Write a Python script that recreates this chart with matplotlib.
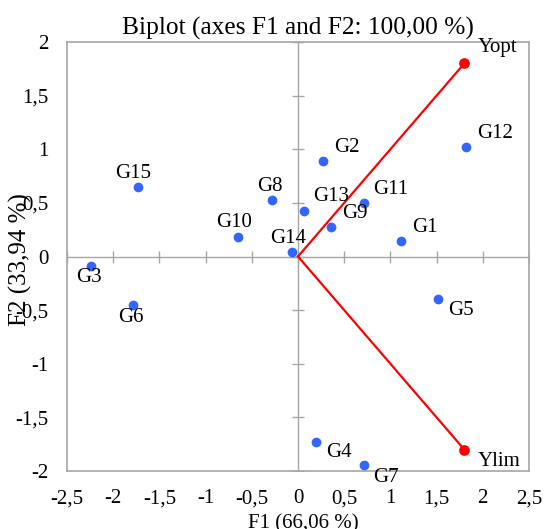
#!/usr/bin/env python3
"""biplot of genotypes (G1..G15) with the Yopt / Ylim vectors"""
import numpy as np
import matplotlib.pyplot as plt

plt.rcParams['font.family'] = ['Liberation Serif', 'DejaVu Serif']

# observations (blue points)
genotypes = ['G1', 'G2', 'G3', 'G4', 'G5', 'G6', 'G7', 'G8',
             'G9', 'G10', 'G11', 'G12', 'G13', 'G14', 'G15']
f1 = [1.12, 0.27, -2.24, 0.20, 1.52, -1.79, 0.71, -0.28,
      0.36, -0.65, 0.71, 1.82, 0.06, -0.06, -1.73]
f2 = [0.145, 0.89, -0.086, -1.73, -0.40, -0.45, -1.94, 0.53,
      0.275, 0.18, 0.50, 1.02, 0.42, 0.045, 0.65]

# variables (red vectors)
variables = ['Yopt', 'Ylim']
v1 = [1.80, 1.80]
v2 = [1.80, -1.80]

x_ticks = np.arange(-2.5, 2.51, 0.5)
y_ticks = np.arange(-2.0, 2.01, 0.5)

# label placement: (dx, dy in pixels, ha)
place = {
    'G1': (11, 9, 'left'), 'G2': (11, 9, 'left'), 'G3': (-2, -16, 'center'),
    'G4': (10, -15, 'left'), 'G5': (10, -16, 'left'), 'G6': (-2, -17, 'center'),
    'G7': (10, -17, 'left'), 'G8': (-2, 9, 'center'), 'G9': (11, 9, 'left'),
    'G10': (-4, 10, 'center'), 'G11': (10, 9, 'left'), 'G12': (11, 9, 'left'),
    'G13': (10, 10, 'left'), 'G14': (-4, 9, 'center'), 'G15': (-5, 9, 'center'),
    'Yopt': (13, 11, 'left'), 'Ylim': (13, -16, 'left'),
}


def fmt(v):
    s = ('%g' % v).replace('.', ',')
    return s


grey = '#A6A6A6'
fig = plt.figure(figsize=(5.44, 5.29), dpi=100)
ax = fig.add_axes([67 / 544, 58 / 529, 462 / 544, 429 / 529])
ax.set_xlim(-2.5, 2.5)
ax.set_ylim(-2, 2)

for s in ax.spines.values():
    s.set_color(grey)
    s.set_linewidth(1.2)

# axes through the origin, with crossing tick marks
ax.axhline(0, color=grey, lw=1.0, zorder=1)
ax.axvline(0, color=grey, lw=1.0, zorder=1)
ax.plot(x_ticks, np.zeros_like(x_ticks), ls='none', marker='|',
        ms=9, mew=1.0, color=grey, zorder=1)
ax.plot(np.zeros_like(y_ticks), y_ticks, ls='none', marker='_',
        ms=9, mew=1.0, color=grey, zorder=1)

ax.set_xticks(x_ticks)
ax.set_yticks(y_ticks)
ax.set_xticklabels([fmt(v) for v in x_ticks])
ax.set_yticklabels([fmt(v) for v in y_ticks])
ax.tick_params(length=0, labelsize=15)
ax.tick_params(axis='x', pad=13)
ax.tick_params(axis='y', pad=13.5)

# red vectors
for x, y in zip(v1, v2):
    ax.plot([0, x], [0, y], color='#FF0000', lw=1.6, zorder=2)
ax.plot(v1, v2, ls='none', marker='o', ms=6.7, color='#FF0000', zorder=3)

ax.plot(f1, f2, ls='none', marker='o', ms=6, color='#3366FF', zorder=3)

for name, x, y in list(zip(genotypes, f1, f2)) + list(zip(variables, v1, v2)):
    dx, dy, ha = place[name]
    ax.annotate(name, (x, y), xytext=(dx, dy), textcoords='offset pixels',
                ha=ha, va='baseline', fontsize=15)

ax.set_title('Biplot (axes F1 and F2: 100,00 %)', fontsize=18.3, pad=5.5)
ax.set_xlabel('F1 (66,06 %)', fontsize=15, labelpad=2)
ax.xaxis.set_label_coords(0.511, -0.1)
ax.xaxis.label.set_va('top')
fig.text(20 / 544, 1 - 259.5 / 529, 'F2 (33,94 %)', rotation=90,
         ha='center', va='center', fontsize=18)

fig.savefig('out.png', dpi=100)
